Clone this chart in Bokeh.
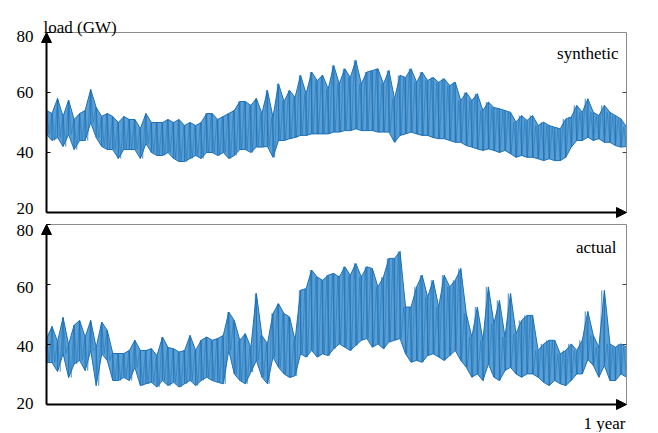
import numpy as np
from bokeh.plotting import figure
from bokeh.models import Arrow, NormalHead, Range1d
from bokeh.core.properties import value
from bokeh.embed import file_html
from bokeh.resources import INLINE

# ---- data (half-week samples across one year) ----
synthetic_high = [54, 53, 58, 52, 57.5, 51, 53, 54, 61, 55,
                  52, 53, 52, 50, 52, 51, 51, 48, 53, 50,
                  50, 50, 51, 50, 51, 49, 50, 49, 50, 53,
                  53, 51, 52, 53, 54, 57, 57, 55.7, 58, 53,
                  60.7, 51.8, 62.9, 57, 60.7, 58.4, 65.7, 59.6, 66.8, 64,
                  65.7, 61.2, 69, 62.9, 67.9, 65, 70.7, 62.9, 66.8, 67.3,
                  67.9, 62.9, 67.3, 57.9, 65.7, 65, 67.9, 63.4, 66.8, 64,
                  65, 63.4, 64.6, 62.3, 63.4, 57.3, 60, 57.3, 59.6, 54,
                  56.8, 55, 54.6, 54, 53.4, 50.1, 52.3, 50.7, 52.3, 49,
                  50.1, 49, 48.4, 47.9, 51.2, 51.8, 55.7, 53.4, 57.9, 53.4,
                  52.3, 55.7, 53.4, 52.3, 51.2, 48.5]
synthetic_low = [46, 44, 45, 42, 46, 41, 44, 44, 50, 45,
                 42, 41, 41, 38, 41, 41, 41, 38, 43, 40,
                 39, 39, 40, 38, 37, 37, 38, 39, 38, 40,
                 40, 39, 40, 38, 39, 41, 41, 40, 41.8, 41.8,
                 42, 38.4, 44, 44, 44.6, 45, 45.7, 45.7, 46.2, 46.2,
                 46.2, 46.2, 46.8, 46.8, 47.3, 47.3, 47.9, 47.3, 47.3, 47.3,
                 46.8, 46.8, 46.8, 43.4, 45.7, 46.2, 46.8, 46.2, 45.7, 45.7,
                 45, 44.6, 44.6, 44, 43.4, 43.4, 42.3, 41.8, 41.2, 40.7,
                 41.2, 40.7, 40, 40.7, 39.6, 38.4, 39, 38.4, 38.4, 37.9,
                 37.3, 37.9, 37.3, 37.3, 38.4, 41.8, 44, 44, 45.1, 44,
                 44.6, 43.4, 43.4, 42.3, 41.8, 42]
actual_high = [42, 46, 41, 49, 40, 46.4, 48, 42.5, 48, 39,
               47.5, 44.7, 37, 37, 37, 38, 41.4, 38, 38, 38.6,
               36.3, 42.5, 39, 38.6, 37.5, 38, 43, 38, 41.4, 42.5,
               41.4, 42, 43, 50.8, 48, 41.4, 43.6, 39, 57, 43,
               40.2, 50.3, 53.6, 50.3, 49.2, 41.4, 58.1, 58.6, 64.8, 62.5,
               61.4, 63.1, 63.7, 62.5, 65.9, 63.1, 67, 62.5, 65.9, 65.3,
               59.2, 62.5, 68.7, 68.7, 71, 52.5, 52.5, 59.2, 63.1, 55.8,
               61.4, 52.5, 63.1, 59.2, 61.4, 65.3, 50.3, 42.5, 52.5, 41.4,
               59.2, 47, 54.7, 42.5, 57, 43.6, 48, 49.7, 49.7, 38,
               40.2, 41.4, 41.4, 36.9, 38, 40.2, 38, 41.4, 51, 43,
               39.1, 58, 40.2, 39.1, 40.2, 39.1]
actual_low = [34, 34, 31, 37, 29, 33.5, 34.7, 31.3, 38, 26.3,
              36.9, 34.7, 28, 28, 29, 28, 32.4, 26.3, 26.9, 27.4,
              25.8, 28, 26.3, 27.4, 25.8, 26.9, 28, 26.3, 28, 29.1,
              28, 27.4, 26.9, 38, 30.2, 28, 26.9, 30.8, 34.7, 29.1,
              26.9, 35.8, 32.4, 30.2, 29, 29.6, 36.9, 35.8, 38, 35.8,
              36.9, 36.3, 38.6, 40.2, 39.1, 38, 39.7, 41.4, 42, 39.1,
              40.2, 38.6, 40.8, 41.4, 42, 36.9, 34.1, 34.7, 34.1, 36.3,
              36.9, 35.8, 34.7, 36.3, 38, 34.7, 32.4, 29.1, 30.2, 28,
              33.5, 29.1, 28, 31.3, 32.4, 30.2, 29.1, 30.2, 30.2, 29.1,
              27.4, 26.3, 28, 26.9, 26.3, 28, 30.2, 30.2, 35, 33,
              29.1, 33, 28, 28, 30.2, 29.1]
y_ticks = [20, 40, 60, 80]
right_ticks = [40, 60]
year_days = 365

# ---- layout constants (pixels) ----
W, H = 650, 432
LEFT_PX, PLOT_W_PX = 46, 580
PX_PER_UNIT = 3.0
TOP80_SYN, TOP80_ACT = 32, 224
FONT = value("'Liberation Serif', 'Times New Roman', serif")
FS = "17px"
LINE = "#1c70b6"
FILL = "#3c8dcd"
GRAY = "#8a8a8a"

ppd = PLOT_W_PX / year_days
x0 = -LEFT_PX / ppd
x_range = Range1d(x0, x0 + W / ppd)

syn_top = 80 + TOP80_SYN / PX_PER_UNIT
act_top = 80 + TOP80_ACT / PX_PER_UNIT
syn_range = Range1d(syn_top - H / PX_PER_UNIT, syn_top)
act_range = Range1d(act_top - H / PX_PER_UNIT, act_top)

p = figure(width=W, height=H, x_range=x_range, y_range=act_range, title=None,
           output_backend="svg", toolbar_location=None,
           x_axis_location=None, y_axis_location=None, min_border=0)
p.extra_y_ranges = {"syn": syn_range}
p.grid.grid_line_color = None
p.outline_line_color = None
p.background_fill_color = "white"
p.border_fill_color = "white"

tick_days = 4 / ppd


def draw_panel(hi, lo, rname, name, name_dx, name_dy, label_dy):
    hi = np.asarray(hi, dtype=float)
    lo = np.asarray(lo, dtype=float)
    n = len(hi)
    t = np.linspace(0, year_days, n)
    p.varea(x=t, y1=lo, y2=hi, fill_color=FILL, fill_alpha=0.85, y_range_name=rname)
    p.segment(x0=t, x1=t, y0=lo, y1=hi, line_color=LINE, line_width=1.2, line_alpha=0.8,
              y_range_name=rname)
    tz = np.linspace(0, year_days, 2 * n)
    yz = np.empty(2 * n)
    yz[0::2] = hi
    yz[1::2] = lo
    p.line(tz, yz, line_color=LINE, line_width=0.7, line_alpha=0.7, y_range_name=rname)
    p.line(t, hi, line_color=LINE, line_width=1, y_range_name=rname)
    p.line(t, lo, line_color=LINE, line_width=1, y_range_name=rname)

    # frame (top and right, gray)
    p.line([0, year_days], [max(y_ticks)] * 2, line_color=GRAY, line_width=1, y_range_name=rname)
    p.line([year_days] * 2, [min(y_ticks), max(y_ticks)], line_color=GRAY, line_width=1,
           y_range_name=rname)
    # ticks
    p.segment(x0=[0] * len(y_ticks), x1=[tick_days] * len(y_ticks), y0=y_ticks, y1=y_ticks,
              line_color="black", line_width=1, y_range_name=rname)
    p.segment(x0=[year_days - tick_days] * len(right_ticks), x1=[year_days] * len(right_ticks),
              y0=right_ticks, y1=right_ticks, line_color="#404040", line_width=1,
              y_range_name=rname)
    # axis arrows
    p.add_layout(Arrow(end=NormalHead(size=10, fill_color="black", line_color="black"),
                       x_start=0, y_start=min(y_ticks), x_end=0, y_end=max(y_ticks),
                       line_color="black", line_width=2, y_range_name=rname))
    p.add_layout(Arrow(end=NormalHead(size=10, fill_color="black", line_color="black"),
                       x_start=0, y_start=min(y_ticks), x_end=year_days, y_end=min(y_ticks),
                       line_color="black", line_width=2, y_range_name=rname))
    # tick labels
    p.text(x=[0] * len(y_ticks), y=y_ticks, text=[str(v) for v in y_ticks],
           x_offset=-13, y_offset=label_dy, text_align="right", text_baseline="middle",
           text_font=FONT, text_font_size=FS, text_color="black", y_range_name=rname)
    # panel name
    p.text(x=[year_days], y=[max(y_ticks)], text=[name], x_offset=name_dx, y_offset=name_dy,
           text_align="right", text_baseline="alphabetic",
           text_font=FONT, text_font_size=FS, text_color="black", y_range_name=rname)


draw_panel(synthetic_high, synthetic_low, "syn", "synthetic", -8, 20.5, [-4, 0, 0, 4])
draw_panel(actual_high, actual_low, "default", "actual", -10, 22.5, [-1, 2, 3, 6])

p.text(x=[0], y=[max(y_ticks)], text=["load (GW)"], x_offset=-3, y_offset=-5,
       text_align="left", text_baseline="alphabetic",
       text_font=FONT, text_font_size=FS, text_color="black", y_range_name="syn")
p.text(x=[year_days], y=[min(y_ticks)], text=["1 year"], x_offset=-1, y_offset=19,
       text_align="right", text_baseline="alphabetic",
       text_font=FONT, text_font_size=FS, text_color="black")

open("out.html", "w").write(file_html(p, INLINE))
